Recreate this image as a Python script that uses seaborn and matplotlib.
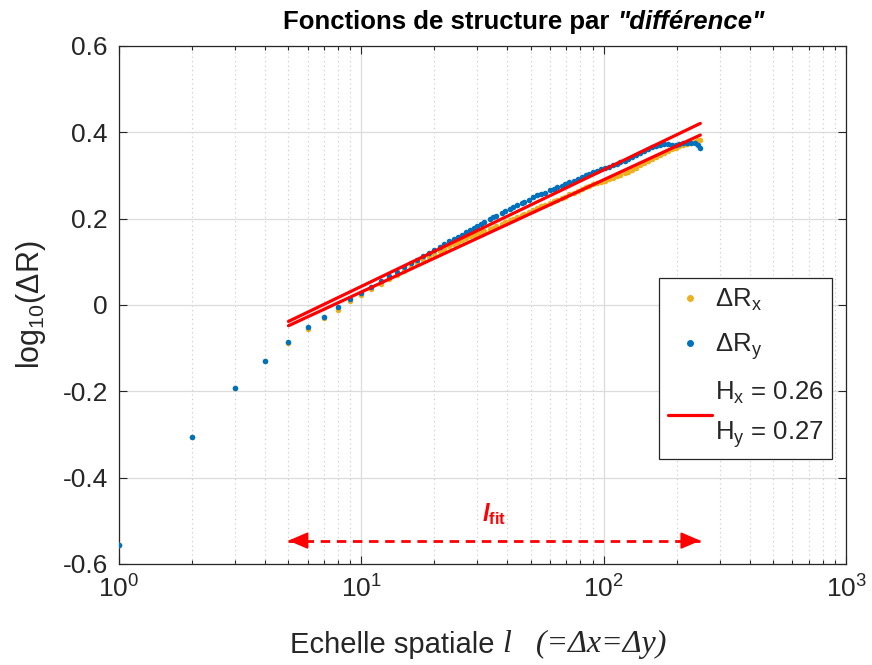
import numpy as np
import pandas as pd
import seaborn as sns
import matplotlib.pyplot as plt
from matplotlib.lines import Line2D

# spatial scales (pixels)
scales = [1, 2, 3, 4, 5, 6, 7, 8, 9, 10, 11, 12, 13, 14, 15, 16, 17, 18, 19, 20,
          21, 22, 23, 24, 25, 26, 27, 28, 29, 30, 31, 32, 34, 35, 36, 38, 39, 41, 42, 44,
          46, 47, 49, 51, 53, 55, 57, 60, 62, 64, 67, 69, 72, 75, 78, 81, 84, 87, 90, 94,
          97, 101, 105, 109, 113, 117, 122, 126, 131, 136, 141, 147, 152, 158, 164, 170,
          177, 184, 191, 198, 205, 213, 221, 229, 237, 244, 250]

# log10(dR) along x
log_dRx = [-0.556, -0.306, -0.193, -0.130, -0.088, -0.055, -0.031, -0.011, 0.008, 0.022,
           0.036, 0.048, 0.059, 0.069, 0.079, 0.088, 0.096, 0.104, 0.112, 0.118,
           0.125, 0.130, 0.136, 0.141, 0.146, 0.151, 0.155, 0.159, 0.162, 0.165,
           0.168, 0.171, 0.176, 0.179, 0.182, 0.188, 0.191, 0.196, 0.199, 0.204,
           0.208, 0.211, 0.216, 0.220, 0.224, 0.228, 0.231, 0.237, 0.240, 0.243,
           0.248, 0.251, 0.256, 0.260, 0.264, 0.268, 0.273, 0.276, 0.279, 0.282,
           0.284, 0.288, 0.291, 0.294, 0.298, 0.301, 0.305, 0.309, 0.313, 0.318,
           0.323, 0.329, 0.333, 0.338, 0.343, 0.347, 0.352, 0.357, 0.361, 0.364,
           0.367, 0.370, 0.373, 0.376, 0.378, 0.381, 0.383]

# log10(dR) along y
log_dRy = [-0.556, -0.306, -0.193, -0.130, -0.087, -0.051, -0.027, -0.005, 0.013, 0.028,
           0.042, 0.055, 0.066, 0.077, 0.087, 0.096, 0.105, 0.113, 0.121, 0.128,
           0.135, 0.141, 0.147, 0.153, 0.158, 0.163, 0.168, 0.173, 0.178, 0.183,
           0.187, 0.192, 0.199, 0.203, 0.207, 0.214, 0.217, 0.223, 0.227, 0.231,
           0.236, 0.239, 0.244, 0.250, 0.254, 0.257, 0.260, 0.266, 0.269, 0.272,
           0.276, 0.279, 0.284, 0.288, 0.292, 0.296, 0.300, 0.303, 0.307, 0.311,
           0.314, 0.317, 0.320, 0.323, 0.326, 0.330, 0.334, 0.338, 0.342, 0.347,
           0.352, 0.357, 0.361, 0.365, 0.368, 0.371, 0.372, 0.372, 0.371, 0.371,
           0.372, 0.374, 0.375, 0.375, 0.374, 0.371, 0.364]

# linear fits in log-log space over the fit range
fit_range = [5, 250]
hurst = {'x': 0.26, 'y': 0.27}
intercept = {'x': -0.230, 'y': -0.227}

yticks = [-0.6, -0.4, -0.2, 0, 0.2, 0.4, 0.6]
ytick_labels = ['-0.6', '-0.4', '-0.2', '0', '0.2', '0.4', '0.6']

sns.set_style('ticks')
plt.rcParams['font.family'] = ['Liberation Sans', 'DejaVu Sans']
plt.rcParams['axes.unicode_minus'] = False
plt.rcParams['mathtext.fontset'] = 'custom'
plt.rcParams['mathtext.rm'] = 'Liberation Sans'
plt.rcParams['mathtext.it'] = 'Liberation Sans:italic:bold'
plt.rcParams['mathtext.bf'] = 'Liberation Sans:bold'
plt.rcParams['mathtext.sf'] = 'Liberation Sans'

orange = '#EDB120'
blue = '#0072BD'
dark = '#262626'

df = pd.DataFrame({'l': scales, 'dRx': log_dRx, 'dRy': log_dRy})

fig = plt.figure(figsize=(8.72, 6.65), dpi=100)
ax = fig.add_axes([0.1365, 0.152, 0.834, 0.779])

ax.set_xscale('log')
ax.grid(True, which='major', color='#dcdcdc', lw=0.9, ls='-')
ax.grid(True, which='minor', axis='x', color='#c8c8c8', lw=0.8, ls=(0, (1, 3)))
ax.set_axisbelow(True)

sns.scatterplot(data=df, x='l', y='dRx', color=orange, s=16, linewidth=0, ax=ax, zorder=3)
sns.scatterplot(data=df, x='l', y='dRy', color=blue, s=16, linewidth=0, ax=ax, zorder=4)

fit_l = np.array(fit_range, dtype=float)
fit_df = pd.DataFrame({
    'l': np.concatenate([fit_l, fit_l]),
    'fit': np.concatenate([intercept['x'] + hurst['x'] * np.log10(fit_l),
                           intercept['y'] + hurst['y'] * np.log10(fit_l)]),
    'dir': ['x', 'x', 'y', 'y'],
})
sns.lineplot(data=fit_df, x='l', y='fit', units='dir', estimator=None,
             color='red', lw=2.3, ax=ax, zorder=5)

# fit range arrow: dashed shaft + solid heads
y_arrow = -0.546
ax.plot(fit_range, [y_arrow, y_arrow], color='red', lw=2, ls=(0, (3.4, 2.4)), zorder=5)
for end, sign in ((fit_range[1], -1), (fit_range[0], 1)):
    ax.annotate('', xy=(end, y_arrow), xytext=(sign * 12, 0), textcoords='offset points',
                arrowprops=dict(arrowstyle='-|>,head_length=0.65,head_width=0.28',
                                color='red', lw=1.5, shrinkA=0, shrinkB=0,
                                mutation_scale=18), zorder=6)
ax.text(np.sqrt(fit_range[0] * fit_range[1]), -0.485, r'$\mathit{l}_{\mathbf{fit}}$',
        color='red', fontsize=17, ha='center', va='center')

ax.set_xlim(1, 1000)
ax.set_ylim(-0.6, 0.6)
ax.set_yticks(yticks)
ax.set_yticklabels(ytick_labels)
ax.tick_params(which='both', direction='in', top=True, right=True,
               colors=dark, labelsize=19, width=0.8)
ax.tick_params(which='major', length=6, pad=8)
ax.tick_params(which='minor', length=3)
for sp in ax.spines.values():
    sp.set_color(dark)
    sp.set_linewidth(0.9)

# title in two pieces (upright + italic)
t1 = fig.text(0.325, 0.956, 'Fonctions de structure par ', fontsize=18.5,
              fontweight='bold', color='black', ha='left', va='baseline')
ax.annotate('"différence"', xy=(1, 0), xycoords=t1, fontsize=18.5, fontweight='bold',
            fontstyle='italic', color='black', ha='left', va='bottom')

# x label: sans text followed by serif italic symbols
x1 = fig.text(0.333, 0.018, 'Echelle spatiale ', fontsize=21, color=dark,
              ha='left', va='baseline')
ax.annotate('l   (=Δx=Δy)', xy=(1, 0), xycoords=x1, fontsize=23, color=dark,
            family='Liberation Serif', fontstyle='italic', ha='left', va='bottom')
ax.set_xlabel('')
ax.set_ylabel('log$_{10}$(ΔR)', fontsize=22, color=dark)
ax.yaxis.set_label_coords(-0.098, 0.5)

handles = [
    Line2D([], [], marker='o', ls='', color=orange, markersize=4),
    Line2D([], [], marker='o', ls='', color=blue, markersize=4),
    Line2D([], [], color='red', lw=2.3),
]
labels = ['ΔR$_\\mathrm{x}$', 'ΔR$_\\mathrm{y}$',
          'H$_\\mathrm{x}$ = %.2f\nH$_\\mathrm{y}$ = %.2f' % (hurst['x'], hurst['y'])]
leg = ax.legend(handles, labels, loc='upper right', bbox_to_anchor=(0.981, 0.552),
                borderaxespad=0, fontsize=18.5, frameon=True, fancybox=False,
                framealpha=1, edgecolor=dark, handlelength=1.7, handletextpad=0.1,
                borderpad=0.35, labelspacing=0.7)
for t in leg.get_texts():
    t.set_linespacing(1.65)
leg.get_frame().set_linewidth(0.9)

plt.savefig('out.png', dpi=100)
